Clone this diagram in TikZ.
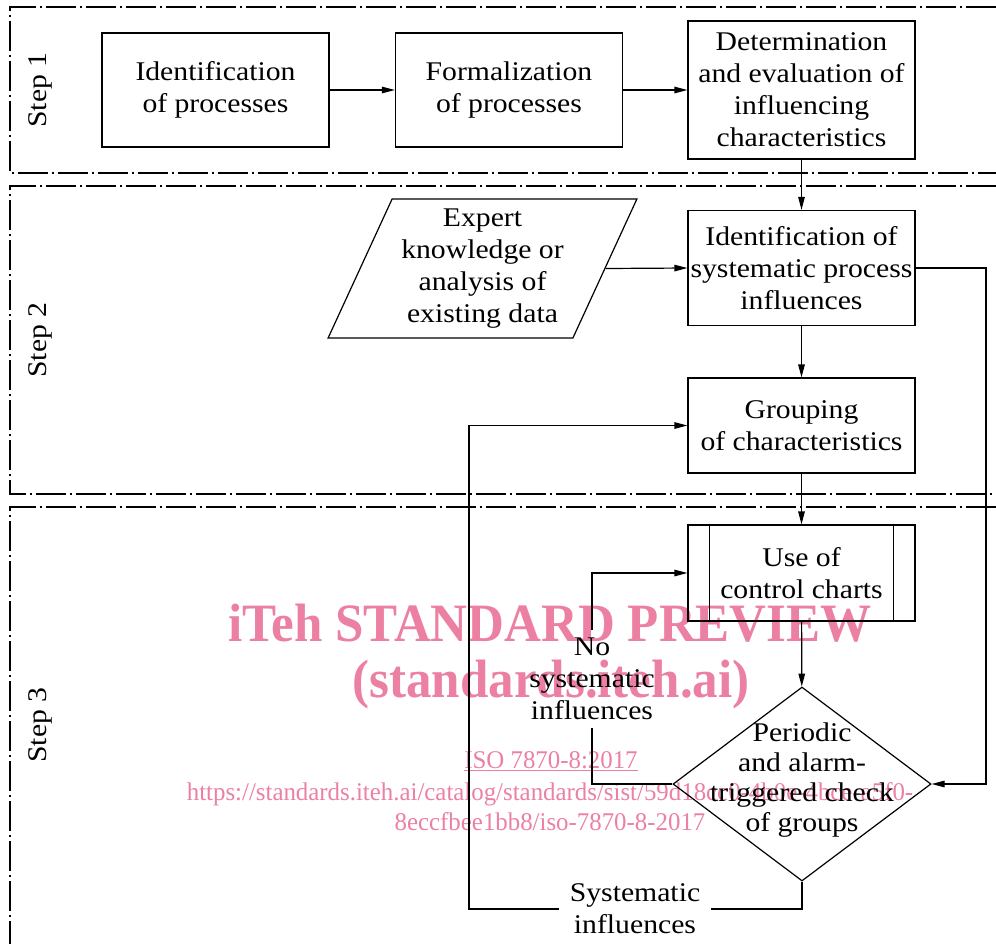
\documentclass[tikz,border=0pt]{standalone}
\usepackage{fontspec}
\setmainfont{Liberation Serif}[FakeStretch=1.1]
\newfontfamily\wmfont{Liberation Serif}[FakeStretch=0.945]
\newfontfamily\wmsmall{Liberation Serif}[FakeStretch=0.975]
\usetikzlibrary{arrows.meta,shapes.geometric,calc}
\definecolor{wm}{RGB}{236,128,163}
\begin{document}
\begin{tikzpicture}[x=1pt,y=-1pt,
  font=\fontsize{27}{32}\selectfont,
  line width=1.2pt,
  box/.style={draw, minimum width=227pt, inner sep=0pt, align=center},
  band/.style={line width=1.2pt, dash pattern=on 30pt off 4pt on 2pt off 4pt},
  arr/.style={-{Triangle[length=13pt,width=6.5pt]}},
  wmk/.style={text=wm, anchor=base},
  lbl/.style={align=center}]
\useasboundingbox (0,0) rectangle (996,943);
% watermark
\node[wmk, font=\wmfont\bfseries\fontsize{54}{60}\selectfont] (w1) at (550,641) {iTeh STANDARD PREVIEW};
\node[wmk, font=\wmfont\bfseries\fontsize{54}{60}\selectfont] (w2) at (551,697) {(standards.iteh.ai)};
\node[wmk, font=\wmsmall\fontsize{25.5}{28}\selectfont] (w3) at (551,768) {\underline{ISO 7870-8:2017}};
\node[wmk, font=\wmsmall\fontsize{25.5}{28}\selectfont] (w4) at (550,800) {https://standards.iteh.ai/catalog/standards/sist/59d18cc0-4b0e-4bce-a5f0-};
\node[wmk, font=\wmsmall\fontsize{25.5}{28}\selectfont] (w5) at (550,830) {8eccfbee1bb8/iso-7870-8-2017};
% bands
\draw[band] (996,7) -- (10,7) -- (10,173) -- (996,173);
\draw[band] (996,186) -- (10,186) -- (10,494) -- (996,494);
\draw[band] (996,507) -- (10,507) -- (10,950);
\node[rotate=90] (s1) at (40,90) {Step 1};
\node[rotate=90] (s2) at (40,340) {Step 2};
\node[rotate=90] (s3) at (40,725) {Step 3};
% nodes
\node[box, minimum height=114pt] (ip) at (215.5,90) {Identification\\of processes};
\node[box, minimum height=114pt] (fp) at (509,90) {Formalization\\of processes};
\node[box, minimum height=138pt] (det) at (801.5,90) {Determination\\and evaluation of\\influencing\\characteristics};
\node[box, minimum height=115pt] (isp) at (801.5,268) {Identification of\\systematic process\\influences};
\node[box, minimum height=95pt] (grp) at (801.5,425.5) {Grouping\\of characteristics};
\node[box, minimum height=96pt] (uc) at (801.5,573) {Use of\\control charts};
\draw ($(uc.north west)+(22,0)$) -- ($(uc.south west)+(22,0)$);
\draw ($(uc.north east)+(-22,0)$) -- ($(uc.south east)+(-22,0)$);
\node[trapezium, draw, trapezium left angle=64.3, trapezium right angle=115.7,
  trapezium stretches=true, minimum width=309pt, minimum height=139pt,
  inner sep=0pt, align=center] (exp) at (482.5,268.5) {Expert\\knowledge or\\analysis of\\existing data};
\node[diamond, draw, minimum width=258pt, minimum height=194pt, inner sep=0pt] (chk) at (802,784) {};
\node[lbl, font=\fontsize{27}{30}\selectfont] (chkt) at (802,780) {Periodic\\and alarm-\\triggered check\\of groups};
\node[lbl, inner xsep=2pt, inner ysep=7pt] (nsi) at (592,679) {No\\systematic\\influences};
\node[lbl, inner xsep=10pt] (si) at (635,909) {Systematic\\influences};
\coordinate (rc) at (986,268);
\coordinate (lp) at (469,909);
% connectors
\draw[arr] (ip) -- (fp);
\draw[arr] (fp) -- (det);
\draw[arr] (det) -- (isp);
\draw[arr] (exp.east) -- (isp.west);
\draw[arr] (isp) -- (grp);
\draw[arr] (grp) -- (uc);
\draw[arr] (uc) -- (chk);
\draw[arr] (isp.east) -- (rc) |- (chk.east);
\draw (chk.west) -| (nsi.south);
\draw[arr] (nsi.north) |- (uc.west);
\draw (chk.south) |- (si.east);
\draw[arr] (si.west) -- (lp) |- (grp.west);
\end{tikzpicture}
\end{document}
